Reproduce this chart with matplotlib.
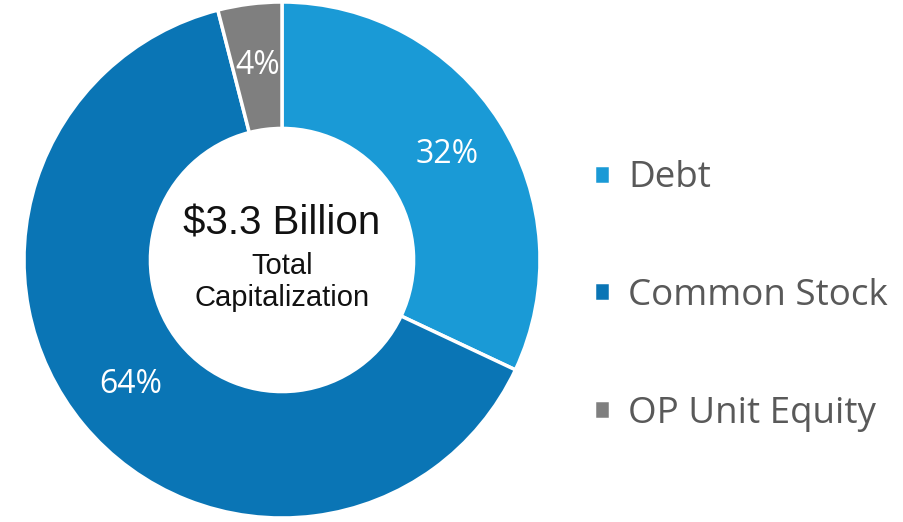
import matplotlib.pyplot as plt

labels = ['Debt', 'Common Stock', 'OP Unit Equity']
shares = [32, 64, 4]
colors = ['#1a9ad6', '#0a75b5', '#7f7f7f']
total_text = '$3.3 Billion'
sub_text = 'Total\nCapitalization'

fig = plt.figure(figsize=(9.04, 5.22), dpi=100)
ax = fig.add_axes([24 / 904, 4 / 522, 516 / 904, 516 / 522])

wedges, texts, autotexts = ax.pie(
    shares, colors=colors, startangle=90, counterclock=False,
    radius=1.0, autopct='%d%%', pctdistance=0.76,
    wedgeprops=dict(width=0.49, edgecolor='white', linewidth=2.5),
    textprops=dict(color='white', fontsize=23, family='Open Sans'),
)
ax.set_xlim(-1.0, 1.0)
ax.set_ylim(-1.0, 1.0)
ax.set_aspect('equal')

# centre caption
ax.text(0, 0.14, total_text, ha='center', va='center', fontsize=29,
        family='Liberation Sans', color='#111111')
ax.text(0, -0.085, sub_text, ha='center', va='center', fontsize=21,
        family='Liberation Sans', color='#111111', linespacing=1.15)

fig.legend(wedges, labels, loc='center left',
           bbox_to_anchor=(561 / 904, 1 - 296 / 522),
           frameon=False, prop=dict(family='Open Sans', size=26.5),
           labelcolor='#595959', handlelength=0.42, handleheight=0.42,
           handletextpad=0.5, labelspacing=2.22)

fig.savefig('out.png', dpi=100)
